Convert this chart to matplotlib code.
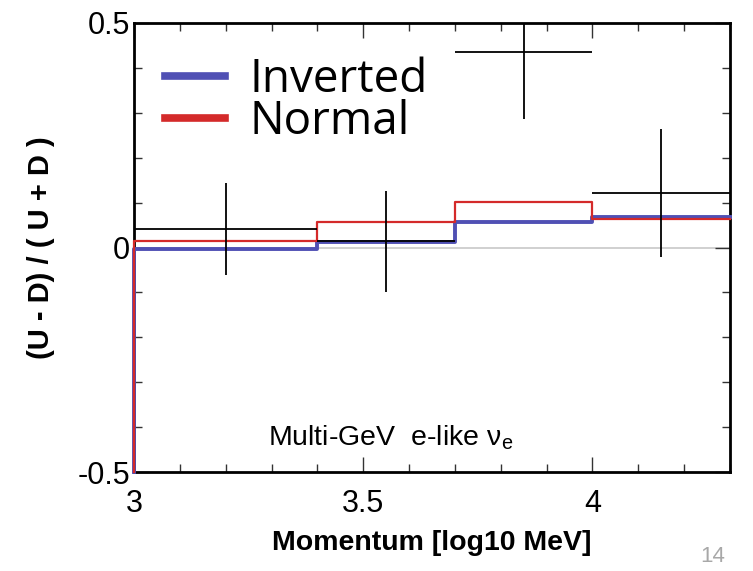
import numpy as np
import matplotlib
matplotlib.use("Agg")
import matplotlib.pyplot as plt
from matplotlib.ticker import MultipleLocator, FixedLocator

plt.rcParams['font.family'] = ['Liberation Sans', 'DejaVu Sans']
plt.rcParams['mathtext.fontset'] = 'custom'
plt.rcParams['mathtext.rm'] = 'Liberation Sans'
plt.rcParams['mathtext.it'] = 'Liberation Sans'

# ---- data ----
edges = [3.0, 3.4, 3.7, 4.0, 4.3]
inverted = [-0.003, 0.012, 0.057, 0.069]
normal = [0.014, 0.057, 0.102, 0.064]
data_x = [3.2, 3.55, 3.85, 4.15]
data_y = [0.041, 0.014, 0.436, 0.121]
data_err = [0.102, 0.112, 0.15, 0.142]
labels = ["Inverted", "Normal"]
title = r"Multi-GeV  e-like $\mathregular{\nu_e}$"
xlabel = "Momentum [log10 MeV]"
ylabel = "(U - D) / ( U + D )"
ymin, ymax = -0.5, 0.5

edges = np.array(edges)
data_x = np.array(data_x)
xerr = np.diff(edges) / 2

fig = plt.figure(figsize=(7.53, 5.71), dpi=100)
ax = fig.add_axes([134/753, 99/571, 596/753, 449/571])
ax.set_xlim(edges[0], edges[-1])
ax.set_ylim(ymin, ymax)

ax.axhline(0, color='#c8c8c8', lw=1.2, zorder=1)

def step_xy(vals):
    xs = np.r_[edges[0], edges]
    ys = np.r_[ymin, vals, vals[-1]]
    return xs, ys

xs, ys = step_xy(inverted)
l1, = ax.step(xs, ys, where='post', color='#5050b4', lw=2.8, clip_on=False, zorder=3)
xs, ys = step_xy(normal)
l2, = ax.step(xs, ys, where='post', color='#d42a2a', lw=1.6, clip_on=False, zorder=3.2)

ax.errorbar(data_x, data_y, xerr=xerr, yerr=data_err, fmt='none',
            ecolor='black', elinewidth=1.3, capsize=0, zorder=4)

leg = ax.legend([l1, l2], labels, loc='upper left', bbox_to_anchor=(0.052, 0.924),
                frameon=False, handlelength=1.3, handletextpad=0.55,
                labelspacing=-0.09, borderaxespad=0, borderpad=0,
                prop={'family': ['Open Sans', 'DejaVu Sans'], 'size': 33})
for h in leg.get_lines():
    h.set_linewidth(5.5)

ax.text(0.43, 0.077, title, transform=ax.transAxes, ha='center', va='center', fontsize=20.5)

ax.xaxis.set_major_locator(FixedLocator([3, 3.5, 4]))
ax.xaxis.set_minor_locator(MultipleLocator(0.1))
ax.yaxis.set_major_locator(FixedLocator([-0.5, 0, 0.5]))
ax.yaxis.set_minor_locator(MultipleLocator(0.1))
ax.set_xticklabels(['3', '3.5', '4'])
ax.set_yticklabels(['-0.5', '0', '0.5'])
ax.tick_params(which='both', direction='in', top=True, right=True, width=1.0, labelsize=22, color='#333333')
ax.tick_params(which='major', length=11)
ax.tick_params(axis='x', which='major', pad=12)
ax.tick_params(axis='y', which='major', pad=3)
ax.tick_params(which='minor', length=6)
for s in ax.spines.values():
    s.set_linewidth(2.0)

ax.set_xlabel(xlabel, fontsize=20.5, fontweight='bold', labelpad=8)
ax.set_ylabel(ylabel, fontsize=21, fontweight='bold', labelpad=16)

fig.text(713/753, 1 - 556/571, "14", color='#a8a8a8', fontsize=16, ha='center', va='center')

fig.savefig('out.png', dpi=100)
